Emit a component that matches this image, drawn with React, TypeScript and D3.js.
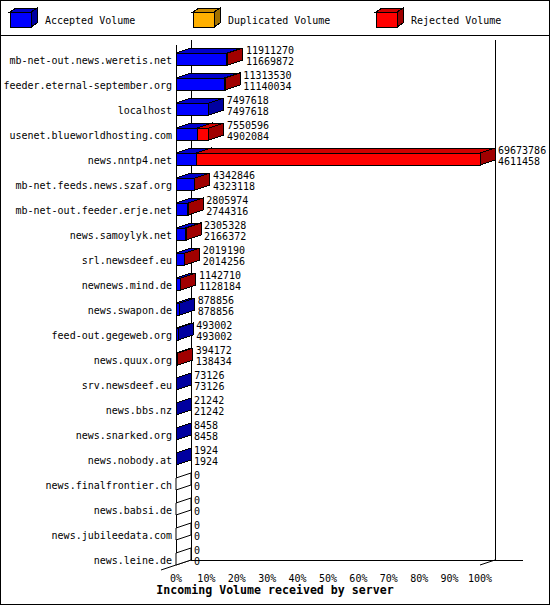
import { scaleBand, scaleLinear } from "d3";

const servers = [
  "mb-net-out.news.weretis.net",
  "feeder.eternal-september.org",
  "localhost",
  "usenet.blueworldhosting.com",
  "news.nntp4.net",
  "mb-net.feeds.news.szaf.org",
  "mb-net-out.feeder.erje.net",
  "news.samoylyk.net",
  "srl.newsdeef.eu",
  "newnews.mind.de",
  "news.swapon.de",
  "feed-out.gegeweb.org",
  "news.quux.org",
  "srv.newsdeef.eu",
  "news.bbs.nz",
  "news.snarked.org",
  "news.nobody.at",
  "news.finalfrontier.ch",
  "news.babsi.de",
  "news.jubileedata.com",
  "news.leine.de",
];

// offered total (first label line) and accepted (second line)
const offered = [
  11911270, 11313530, 7497618, 7550596, 69673786, 4342846, 2805974, 2305328, 2019190, 1142710, 878856, 493002,
  394172, 73126, 21242, 8458, 1924, 0, 0, 0, 0,
];
const accepted = [
  11669872, 11140034, 7497618, 4902084, 4611458, 4323118, 2744316, 2166372, 2014256, 1128184, 878856, 493002,
  138434, 73126, 21242, 8458, 1924, 0, 0, 0, 0,
];
const duplicated = [0, 0, 0, 0, 0, 0, 0, 0, 0, 0, 0, 0, 0, 0, 0, 0, 0, 0, 0, 0, 0];
const rejected = [
  241398, 173496, 0, 2648512, 65062328, 19728, 61658, 138956, 4934, 14526, 0, 0, 255738, 0, 0, 0, 0, 0, 0, 0, 0,
];

const seriesNames = ["Accepted Volume", "Duplicated Volume", "Rejected Volume"];
const percentTicks = [0, 10, 20, 30, 40, 50, 60, 70, 80, 90, 100];

const shades = [
  { front: "#0000ff", top: "#0000cc", side: "#0000a0" },
  { front: "#ffb000", top: "#cc8c00", side: "#a07000" },
  { front: "#ff0000", top: "#d00000", side: "#a00000" },
];

const W = 550;
const H = 605;
const DX = 15;
const DY = 5;
const mono = "'DejaVu Sans Mono', 'Liberation Mono', monospace";

const pts = (p: number[][]) => p.map((d) => d.join(",")).join(" ");

const Cube = ({ x, y, w, h, dx, dy, c }: any) => (
  <g stroke="#000" strokeWidth={1}>
    <polygon points={pts([[x, y], [x + dx, y - dy], [x + w + dx, y - dy], [x + w, y]])} fill={c.top} />
    <rect x={x} y={y} width={w} height={h} fill={c.front} />
    <polygon points={pts([[x + w, y], [x + w + dx, y - dy], [x + w + dx, y + h - dy], [x + w, y + h]])} fill={c.side} />
  </g>
);

const App = () => {
  const maxTotal = Math.max(...offered);
  const pct = scaleLinear().domain([0, 100]).range([176, 480]);
  const x = scaleLinear().domain([0, maxTotal]).range([176, 480]);
  const y = scaleBand<string>().domain(servers).range([46.5, 571.5]).paddingInner(0.52).paddingOuter(0.26);

  const x0 = pct(0);
  const x1 = pct(100);
  const wallTop = 40;
  const floor = 560;
  const bw = y.bandwidth();

  return (
    <svg width={W} height={H} style={{ position: "absolute", left: 0, top: 0, background: "#fff" }} shapeRendering="crispEdges">
      <rect x={0.5} y={0.5} width={W - 1} height={H - 1} fill="#fff" stroke="#000" />
      <line x1={0} x2={W} y1={35.5} y2={35.5} stroke="#000" />

      {/* legend */}
      {seriesNames.map((name, i) => (
        <g key={name}>
          <Cube x={10 + i * 183} y={12} w={21} h={15} dx={6} dy={4} c={shades[i]} />
          <text x={45 + i * 183} y={23.5} fontFamily={mono} fontSize={10}>
            {name}
          </text>
        </g>
      ))}

      {/* back wall and floor */}
      <g stroke="#000" fill="none">
        <line x1={x0 + DX + 0.5} x2={x0 + DX + 0.5} y1={wallTop} y2={floor} />
        <line x1={x1 + DX + 0.5} x2={x1 + DX + 0.5} y1={wallTop} y2={floor} />
        <line x1={x0 + DX} x2={523} y1={floor + 0.5} y2={floor + 0.5} />
        <line x1={x0 + 0.5} x2={x0 + 0.5} y1={wallTop + DY} y2={floor + DY} />
        <line x1={x0 - DX} x2={x0 + DX} y1={floor + 2 * DY} y2={floor} shapeRendering="auto" />
        <line x1={x1 + DX} x2={x1} y1={floor} y2={floor + DY} shapeRendering="auto" />
      </g>

      {/* bars */}
      {servers.map((s, i) => {
        const top = y(s)!;
        const vals = [accepted[i], duplicated[i], rejected[i]];
        let acc = 0;
        const segs = vals.map((v, k) => {
          const a = x(acc);
          acc += v;
          return { a, b: x(acc), v, k };
        });
        const end = x(offered[i]);
        return (
          <g key={s}>
            {offered[i] === 0 ? (
              <polygon
                points={pts([[x0, top], [x0 + DX, top - DY], [x0 + DX, top + bw - DY], [x0, top + bw]])}
                fill="#fff"
                stroke="#000"
                shapeRendering="auto"
              />
            ) : (
              segs
                .filter((d) => d.v > 0)
                .map((d) => <Cube key={d.k} x={d.a} y={top} w={d.b - d.a} h={bw} dx={DX} dy={DY} c={shades[d.k]} />)
            )}
            <text x={end + DX + 3} y={top + bw / 2 - 5} fontFamily={mono} fontSize={10}>
              {offered[i]}
            </text>
            <text x={end + DX + 3} y={top + bw / 2 + 6} fontFamily={mono} fontSize={10}>
              {accepted[i]}
            </text>
            <text x={172} y={top + bw / 2 + 4.5} fontFamily={mono} fontSize={10} textAnchor="end">
              {s}
            </text>
          </g>
        );
      })}

      {/* x axis labels */}
      {percentTicks.map((t) => (
        <text key={t} x={pct(t)} y={582} fontFamily={mono} fontSize={10} textAnchor="middle">
          {t}%
        </text>
      ))}
      <text x={W / 2} y={594} fontFamily={mono} fontSize={11.6} fontWeight="bold" textAnchor="middle">
        Incoming Volume received by server
      </text>
    </svg>
  );
};

export default App;
